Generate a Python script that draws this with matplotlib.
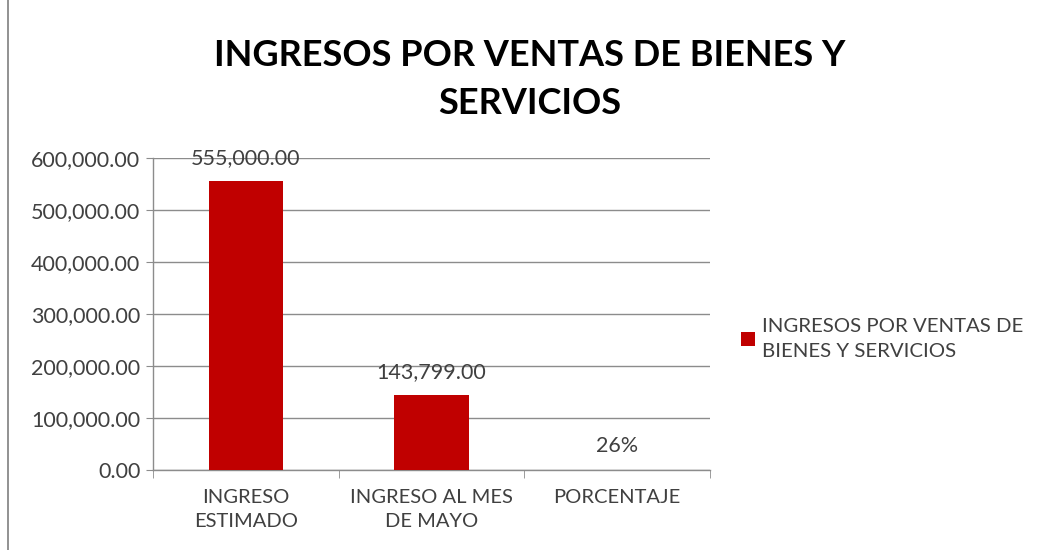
import numpy as np
import matplotlib
matplotlib.use("Agg")
import matplotlib.pyplot as plt
from matplotlib.patches import Rectangle
from matplotlib.ticker import FuncFormatter, FixedLocator

categories = ["INGRESO\nESTIMADO", "INGRESO AL MES\nDE MAYO", "PORCENTAJE"]
values = [555000.00, 143799.00, 0.26]
value_labels = ["555,000.00", "143,799.00", "26%"]
series_name = "INGRESOS POR VENTAS DE\nBIENES Y SERVICIOS"
title = "INGRESOS POR VENTAS DE BIENES Y\nSERVICIOS"

plt.rcParams['font.family'] = ['Lato', 'DejaVu Sans']
bar_color = "#C00000"
grid_color = "#8C8C8C"
text_color = "#404040"

fig = plt.figure(figsize=(10.37, 5.5), dpi=100)
ax = fig.add_axes([0.1475, 0.1455, 0.5372, 0.5672])

x = np.arange(len(categories))
bars = ax.bar(x, values, width=0.4, color=bar_color, label=series_name, zorder=3)

# etykiety wartosci nad slupkami
for xi, v, lab in zip(x, values, value_labels):
    ax.annotate(lab, (xi, v), xytext=(0, 17), textcoords="offset points",
                ha="center", va="center", fontsize=15.5, color=text_color)

ax.set_xlim(-0.5, len(categories) - 0.5)
ax.set_ylim(0, 600000)
ax.set_yticks(np.arange(0, 600001, 100000))
ax.yaxis.set_major_formatter(FuncFormatter(lambda v, p: f"{v:,.2f}"))
ax.yaxis.grid(True, color=grid_color, linewidth=1.0, zorder=0)
ax.set_xticks(x)
ax.set_xticklabels(categories, fontsize=14.5, color=text_color, linespacing=1.5)
ax.xaxis.set_minor_locator(FixedLocator(np.arange(-0.5, len(categories), 1.0)))
ax.tick_params(axis="x", which="major", length=0, pad=14)
ax.tick_params(axis="x", which="minor", length=6, color=grid_color)
ax.tick_params(axis="y", length=5, color=grid_color, labelsize=15.5, labelcolor=text_color, pad=4)

for s in ["top", "right"]:
    ax.spines[s].set_visible(False)
for s in ["left", "bottom"]:
    ax.spines[s].set_color(grid_color)
    ax.spines[s].set_linewidth(1.0)

fig.text(0.511, 0.856, title, ha="center", va="center", fontsize=26, fontweight="bold",
         color="black", linespacing=1.55)

leg = fig.legend(handles=[bars], labels=[series_name], loc="upper left",
                 bbox_to_anchor=(0.697, 0.455), frameon=False, fontsize=14.7,
                 handlelength=0.7, handleheight=0.7, handletextpad=0.3,
                 labelcolor=text_color)
for t in leg.get_texts():
    t.set_linespacing(1.55)

fig.patches.append(Rectangle((0.008, -0.01), 1.2, 1.2, transform=fig.transFigure,
                             fill=False, edgecolor="#7F7F7F", linewidth=1.2))

fig.savefig("out.png", dpi=100)
